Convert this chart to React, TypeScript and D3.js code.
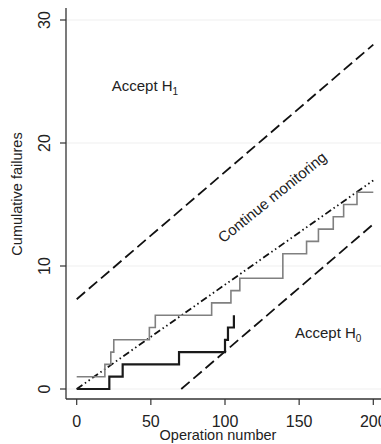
import React from "react";
import * as d3 from "d3";

const xTicks = [0, 50, 100, 150, 200];
const yTicks = [0, 10, 20, 30];

// Observed cumulative failures (step functions)
const grayOps = [0, 19, 23, 25, 49, 53, 91, 104, 110, 139, 155, 163, 173, 180, 189, 200];
const grayVals = [1, 2, 3, 4, 5, 6, 7, 8, 9, 11, 12, 13, 14, 15, 16, 16];
const blackOps = [0, 22, 31, 69, 100, 102, 106];
const blackVals = [0, 1, 2, 3, 4, 5, 6];

// Boundary lines: value = intercept + slope * op
const upperLine = { intercept: 7.3, slope: 0.1035, from: 0, to: 200 };
const lowerLine = { intercept: -7.3, slope: 0.1035, from: 70.5, to: 200 };
const midLine = { intercept: 0, slope: 0.0848, from: 0, to: 200 };

const W = 381;
const H = 444;
const FONT = "'Liberation Sans', Arial, sans-serif";

export default function App() {
  const x = d3.scaleLinear().domain([0, 200]).range([76.7, 373.3]);
  const y = d3.scaleLinear().domain([0, 30]).range([389, 20]);
  const axisX = 66;
  const axisY = 399;

  const step = d3
    .line<[number, number]>()
    .x((d) => x(d[0]))
    .y((d) => y(d[1]))
    .curve(d3.curveStepAfter);
  const lin = d3
    .line<[number, number]>()
    .x((d) => x(d[0]))
    .y((d) => y(d[1]));

  const grayPts: [number, number][] = grayOps.map((o, i) => [o, grayVals[i]]);
  const blackPts: [number, number][] = blackOps.map((o, i) => [o, blackVals[i]]);
  const seg = (l: { intercept: number; slope: number; from: number; to: number }) =>
    lin([
      [l.from, l.intercept + l.slope * l.from],
      [l.to, l.intercept + l.slope * l.to],
    ] as [number, number][]);

  return (
    <svg
      width={W}
      height={H}
      style={{ position: "absolute", left: 0, top: 0, background: "#fff" }}
      fontFamily={FONT}
    >
      <rect width={W} height={H} fill="#fff" />
      {yTicks.map((t) => (
        <line key={"g" + t} x1={axisX} x2={W} y1={y(t)} y2={y(t)} stroke="#efefef" strokeWidth={1} />
      ))}
      {/* axes */}
      <line x1={axisX} x2={axisX} y1={8} y2={axisY} stroke="#333" strokeWidth={1.3} />
      <line x1={axisX} x2={W} y1={axisY} y2={axisY} stroke="#333" strokeWidth={1.3} />
      {yTicks.map((t) => (
        <g key={"y" + t}>
          <line x1={60} x2={axisX} y1={y(t)} y2={y(t)} stroke="#333" strokeWidth={1.2} />
          <text
            x={44}
            y={y(t)}
            transform={`rotate(-90 44 ${y(t)})`}
            textAnchor="middle"
            dominantBaseline="central"
            fontSize={16}
            fill="#222"
          >
            {t}
          </text>
        </g>
      ))}
      {xTicks.map((t) => (
        <g key={"x" + t}>
          <line x1={x(t)} x2={x(t)} y1={axisY} y2={405} stroke="#333" strokeWidth={1.2} />
          <text x={x(t)} y={426.5} textAnchor="middle" fontSize={16} fill="#222">
            {t}
          </text>
        </g>
      ))}
      <text x={218} y={439.5} textAnchor="middle" fontSize={14.5} fill="#222">
        Operation number
      </text>
      <text
        x={17}
        y={194}
        transform="rotate(-90 17 194)"
        textAnchor="middle"
        dominantBaseline="central"
        fontSize={14.5}
        fill="#222"
      >
        Cumulative failures
      </text>

      {/* boundary lines */}
      <path d={seg(upperLine) || ""} fill="none" stroke="#111" strokeWidth={1.8} strokeDasharray="11,5" />
      <path d={seg(lowerLine) || ""} fill="none" stroke="#111" strokeWidth={1.8} strokeDasharray="11,5" />
      <path
        d={seg(midLine) || ""}
        fill="none"
        stroke="#111"
        strokeWidth={1.8}
        strokeDasharray="7,3,1.5,3,1.5,3"
      />

      {/* observed */}
      <path d={step(grayPts) || ""} fill="none" stroke="#808080" strokeWidth={1.6} />
      <path d={step(blackPts) || ""} fill="none" stroke="#1a1a1a" strokeWidth={2.2} />

      {/* annotations */}
      <text x={111.7} y={90.7} fontSize={15} fill="#222">
        Accept H<tspan fontSize={10} dy={4}>1</tspan>
      </text>
      <text x={295} y={338.3} fontSize={15} fill="#222">
        Accept H<tspan fontSize={10} dy={4}>0</tspan>
      </text>
      <text
        x={272}
        y={197}
        transform="rotate(-39 272 197)"
        textAnchor="middle"
        dominantBaseline="central"
        fontSize={15}
        fill="#222"
      >
        Continue monitoring
      </text>
    </svg>
  );
}
